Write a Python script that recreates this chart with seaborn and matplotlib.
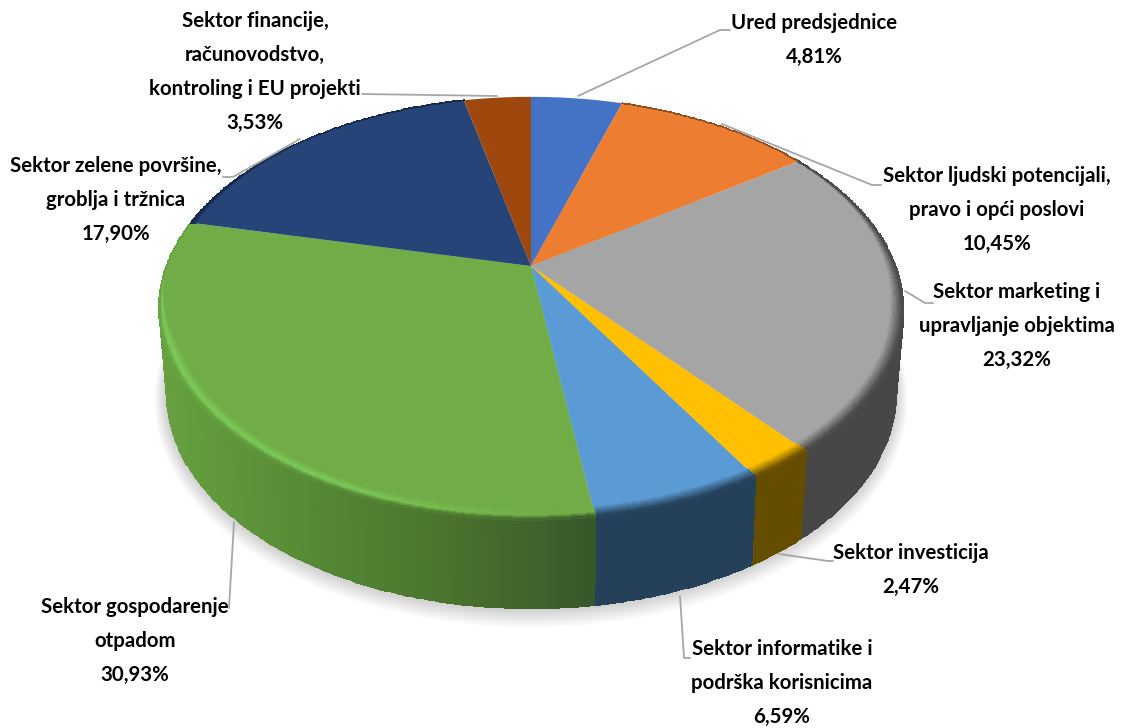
import numpy as np
import matplotlib
matplotlib.use("Agg")
import matplotlib.pyplot as plt
import matplotlib.transforms as mtransforms
from matplotlib.path import Path
import seaborn as sns

categories = ["Ured predsjednice", "Sektor ljudski potencijali,\npravo i opći poslovi",
              "Sektor marketing i\nupravljanje objektima", "Sektor investicija",
              "Sektor informatike i\npodrška korisnicima", "Sektor gospodarenje\notpadom",
              "Sektor zelene površine,\ngroblja i tržnica",
              "Sektor financije,\nračunovodstvo,\nkontroling i EU projekti"]
values = [4.81, 10.45, 23.32, 2.47, 6.59, 30.93, 17.90, 3.53]
value_labels = ["4,81%", "10,45%", "23,32%", "2,47%", "6,59%", "30,93%", "17,90%", "3,53%"]
top_colors = ["#4472c4", "#ed7d31", "#a5a5a5", "#ffc000", "#5b9bd5", "#70ad47", "#264478", "#9e480e"]
wall_colors = ["#2a4475", "#8e4b1d", "#474747", "#654d00", "#254059", None, "#17294a", "#5e2b08"]
green_wall = ["#66a03f", "#568a36", "#4a722d", "#38562a"]

label_xy = [(814, 40), (997, 210), (1017, 326), (911, 570), (782, 683), (135, 641), (116, 200), (255, 72)]
leaders = [[(578, 96), (720, 30), (730, 30)],
           [(722, 124), (872, 185), (881, 185)],
           [(905, 291), (925, 303), (933, 303)],
           [(779, 554), (828, 561), (833, 561)],
           [(680, 596), (684, 658), (690, 658)],
           [(234, 522), (229, 608)],
           [(300, 139), (233, 177), (223, 177)],
           [(497, 96), (362, 94)]]


class DiskPerspective(mtransforms.Transform):
    """Maps the unit disk of the pie to the tilted picture plane (pixels)."""
    input_dims = 2
    output_dims = 2
    has_inverse = False

    def __init__(self, cx=531., cy=266., a=364.5, b=203., k=0.2):
        super().__init__()
        self.cx, self.cy, self.a, self.b, self.k = cx, cy, a, b, k

    def transform_non_affine(self, values):
        values = np.asarray(values, float)
        r = np.hypot(values[:, 0], values[:, 1])
        th = np.degrees(np.arctan2(values[:, 0], values[:, 1])) % 360
        th = th + 1.6 * np.exp(-((th - 145) / 22) ** 2)
        t = np.deg2rad(th)
        u, v = r * np.sin(t), r * np.cos(t)
        w = 1 + self.k * v
        return np.c_[self.cx + self.a * u / w, self.cy - self.b * v / w]

    def transform_path_non_affine(self, path):
        polys = path.to_polygons(mtransforms.Affine2D().scale(800))
        return Path(self.transform_non_affine(polys[0] / 800))


sns.set_theme(style="white")
plt.rcParams["font.family"] = ["Lato", "DejaVu Sans"]
palette = sns.color_palette(top_colors)
persp = DiskPerspective()


def rim(theta, r=1.0):
    t = np.deg2rad(theta)
    return persp.transform_non_affine(np.c_[r * np.sin(t), r * np.cos(t)])


def base(theta):
    p = rim(theta)
    return np.c_[531 + (p[:, 0] - 531) * 0.98, 393 + (p[:, 1] - 308) * 1.016]


def rgb(c):
    return np.array(matplotlib.colors.to_rgb(c))


fig = plt.figure(figsize=(11.23, 7.28), dpi=100, facecolor="white")
ax = fig.add_axes([0, 0, 1, 1])

wedges, _ = ax.pie(values, colors=palette, startangle=90, counterclock=False,
                   wedgeprops=dict(linewidth=0))
ax.set_aspect("auto")
ax.set_xlim(0, 1123)
ax.set_ylim(728, 0)
ax.axis("off")
for w in wedges:
    w.set_transform(persp + ax.transData)
    w.set_zorder(3)

# soft shadow below the wall
th = np.linspace(0, 360, 361)
for i in range(12, 0, -1):
    p = base(th)
    ex = 531 + (p[:, 0] - 531) * (1 + i * 1.0 / 365)
    ey = 393 + i * 0.6 + (p[:, 1] - 393) * (1 + i * 1.0 / 215)
    ax.fill(ex, ey, color="black", alpha=0.014, lw=0, zorder=1)

edges = np.r_[0, np.cumsum(values)] * 3.6
grad = np.array(sns.blend_palette(green_wall, 200))


def wall_color(i, xs):
    if wall_colors[i] is None:
        idx = np.clip(((xs - 160) / (596 - 160) * 199).astype(int), 0, 199)
        return grad[idx]
    return np.tile(rgb(wall_colors[i]), (len(xs), 1))


for i, (a0, a1) in enumerate(zip(edges[:-1], edges[1:])):
    lo, hi = max(a0, 90), min(a1, 270)
    if hi <= lo:
        continue
    th = np.linspace(lo, hi, max(int(hi - lo) * 2, 2) + 1)
    t, b = rim(th), base(th)
    X = np.vstack([t[:, 0], b[:, 0]])
    Y = np.vstack([t[:, 1], b[:, 1]])
    cols = wall_color(i, (t[:-1, 0] + t[1:, 0]) / 2)
    ax.pcolormesh(X, Y, cols[None, :, :], shading="flat", edgecolors="face",
                  linewidth=0.4, zorder=2)

# bevel between top face and wall
for i, (a0, a1) in enumerate(zip(edges[:-1], edges[1:])):
    th = np.linspace(a0, a1, max(int(a1 - a0) * 2, 2) + 1)
    v = np.cos(np.deg2rad(th))
    if wall_colors[i] is None:
        width = 0.032 * np.clip((-0.05 - v) / 0.35, 0, 1)
    else:
        width = 0.032 * np.clip((0.65 - v) / 0.85, 0, 1)
    if width.max() == 0:
        continue
    layers = np.linspace(0, 1, 11)
    X = np.zeros((len(layers), len(th)))
    Y = np.zeros_like(X)
    for j, s in enumerate(layers):
        p = rim(th, 1 - width * (1 - s))
        X[j], Y[j] = p[:, 0], p[:, 1]
    xm = (X[-1, :-1] + X[-1, 1:]) / 2
    wall = wall_color(i, xm)
    top = rgb(top_colors[i])
    C = np.zeros((len(layers) - 1, len(th) - 1, 3))
    for j in range(len(layers) - 1):
        s = (layers[j] + layers[j + 1]) / 2
        if wall_colors[i] is None:
            strength = np.clip((570 - xm) / 240, 0, 1)[:, None]
            hl = top + (rgb("#7ccb58") - top) * strength
            if s < 0.6:
                C[j] = top + (hl - top) * (s / 0.6)
            else:
                C[j] = hl + (wall - hl) * ((s - 0.6) / 0.4)
        else:
            C[j] = top + (wall - top) * s
    ax.pcolormesh(X, Y, C, shading="flat", edgecolors="face", linewidth=0.3, zorder=4)

for pts in leaders:
    xy = np.array(pts)
    ax.plot(xy[:, 0], xy[:, 1], color="#a6a6a6", lw=1.3, zorder=5, solid_capstyle="round")

for name, val, (x, y) in zip(categories, value_labels, label_xy):
    ax.text(x, y, f"{name}\n{val}", ha="center", va="center", fontsize=14.7, fontweight="bold",
            color="black", linespacing=1.886, zorder=6)

fig.savefig("out.png", dpi=100, facecolor="white")
